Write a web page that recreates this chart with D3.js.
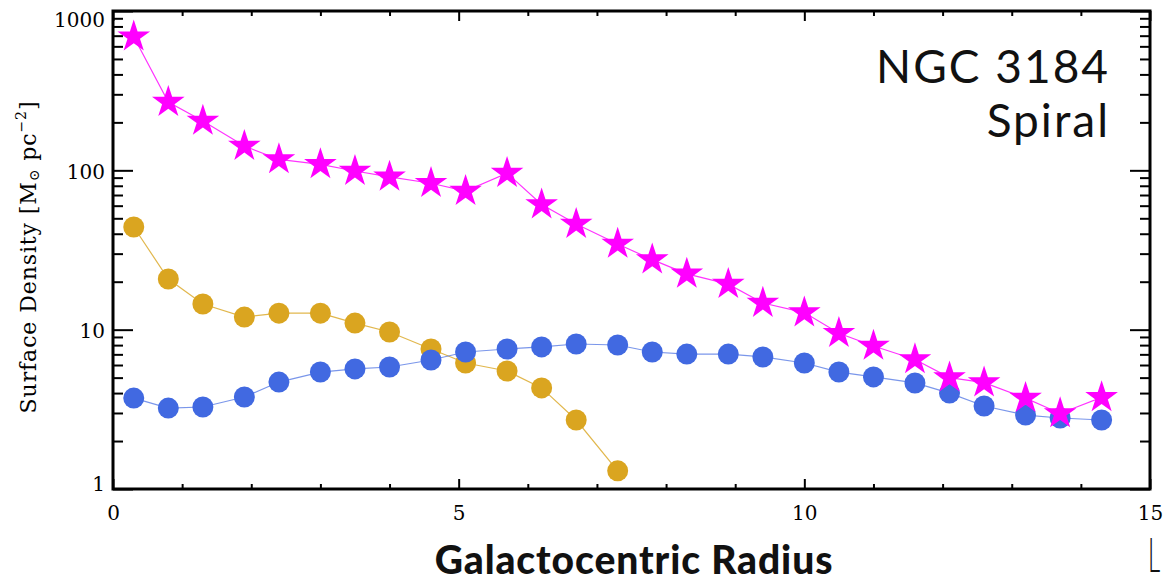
<!DOCTYPE html>
<html><head><meta charset="utf-8">
<script src="https://cdn.jsdelivr.net/npm/d3@7"></script>
<style>
html,body{margin:0;padding:0;background:#fff;}
svg{display:block;}
</style></head>
<body>
<script>
// ---- data ----
const radius = [0.3,0.8,1.3,1.9,2.4,3.0,3.5,4.0,4.6,5.1,5.7,6.2,6.7,7.3,7.8,8.3,8.9,9.4,10.0,10.5,11.0,11.6,12.1,12.6,13.2,13.7,14.3];
const totalDensity = [690,268,204,142,117,109,99,91,83,74,96,61,46,34.5,27.5,22.4,19.3,14.7,12.8,9.5,7.9,6.5,5.0,4.65,3.72,2.98,3.76];
const blueDensity = [3.72,3.22,3.27,3.78,4.69,5.42,5.67,5.83,6.45,7.24,7.56,7.79,8.13,8.01,7.24,7.03,7.03,6.74,6.18,5.42,5.05,4.63,4.0,3.32,2.91,2.79,2.71];
const goldDensity = [44.1,20.8,14.5,12.0,12.7,12.7,11.0,9.67,7.56,6.18,5.50,4.31,2.71,1.30];
const xTickLabels = [0,5,10,15];
const yTickLabels = [1,10,100,1000];
const titleLines = ["NGC 3184","Spiral"];

const W=1165,H=584;
const L=113,R=1150,T=11,B=489;
const svg=d3.select("body").append("svg").attr("width",W).attr("height",H);

const x=d3.scaleLinear().domain([0,15]).range([L,R]);
const y=d3.scaleLog().domain([1,1000]).range([B,T]);

const minorY=[];
[1,10,100].forEach(d=>{for(let k=2;k<=9;k++)minorY.push(d*k);});
const minorX=d3.range(0,16).filter(v=>v%5!==0);

const tickFont="DejaVu Serif";
function styleAxis(g){
  g.select(".domain").remove();
  g.selectAll(".tick line").attr("stroke","#000").attr("stroke-width",2);
  g.selectAll("text").attr("font-family",tickFont).attr("font-size",20).attr("fill","#000");
}
// left
svg.append("g").attr("transform",`translate(${L},0)`)
  .call(d3.axisLeft(y).tickValues(yTickLabels).tickSize(-20).tickPadding(8).tickFormat(d3.format("d")))
  .call(styleAxis)
  .call(g=>g.selectAll("text").attr("dy",d=>d===1000?"0.75em":(d===1?"0.05em":"0.4em")));
svg.append("g").attr("transform",`translate(${L},0)`)
  .call(d3.axisLeft(y).tickValues(minorY).tickSize(-10).tickFormat(""))
  .call(styleAxis);
// right
svg.append("g").attr("transform",`translate(${R},0)`)
  .call(d3.axisRight(y).tickValues(yTickLabels).tickSize(-20).tickFormat(""))
  .call(styleAxis);
svg.append("g").attr("transform",`translate(${R},0)`)
  .call(d3.axisRight(y).tickValues(minorY).tickSize(-10).tickFormat(""))
  .call(styleAxis);
// bottom
svg.append("g").attr("transform",`translate(0,${B})`)
  .call(d3.axisBottom(x).tickValues(xTickLabels).tickSize(-10).tickPadding(17).tickFormat(d3.format("d")))
  .call(styleAxis);
svg.append("g").attr("transform",`translate(0,${B})`)
  .call(d3.axisBottom(x).tickValues(minorX).tickSize(-5).tickFormat(""))
  .call(styleAxis);
// top
svg.append("g").attr("transform",`translate(0,${T})`)
  .call(d3.axisTop(x).tickValues(xTickLabels).tickSize(-10).tickFormat(""))
  .call(styleAxis);
svg.append("g").attr("transform",`translate(0,${T})`)
  .call(d3.axisTop(x).tickValues(minorX).tickSize(-5).tickFormat(""))
  .call(styleAxis);

// frame
svg.append("rect").attr("x",L).attr("y",T).attr("width",R-L).attr("height",B-T)
  .attr("fill","none").attr("stroke","#000").attr("stroke-width",3);

// series
const line=d3.line().x(d=>x(d[0])).y(d=>y(d[1]));
const goldPts=goldDensity.map((v,i)=>[radius[i],v]);
const bluePts=blueDensity.map((v,i)=>[radius[i],v]);
const starPts=totalDensity.map((v,i)=>[radius[i],v]);

const gold="#DAA520", blue="#4169E1", mag="#FF00FF";
svg.append("path").datum(goldPts).attr("d",line).attr("fill","none").attr("stroke",gold).attr("stroke-opacity",0.8).attr("stroke-width",1.2);
svg.append("path").datum(bluePts).attr("d",line).attr("fill","none").attr("stroke",blue).attr("stroke-opacity",0.7).attr("stroke-width",1.2);
svg.append("path").datum(starPts).attr("d",line).attr("fill","none").attr("stroke",mag).attr("stroke-opacity",0.8).attr("stroke-width",1.2);

svg.append("g").selectAll("circle").data(goldPts).join("circle")
  .attr("cx",d=>x(d[0])).attr("cy",d=>y(d[1])).attr("r",10.5).attr("fill",gold);
svg.append("g").selectAll("circle").data(bluePts).join("circle")
  .attr("cx",d=>x(d[0])).attr("cy",d=>y(d[1])).attr("r",10.5).attr("fill",blue);
const star=d3.symbol().type(d3.symbolStar).size(330);
svg.append("g").selectAll("path").data(starPts).join("path")
  .attr("d",star).attr("transform",d=>`translate(${x(d[0])},${y(d[1])})`).attr("fill",mag);

// title
const tg=svg.append("g").attr("font-family","Lato, 'Open Sans', sans-serif").attr("font-size",46)
  .attr("letter-spacing",2).attr("fill","#111").attr("text-anchor","end");
tg.append("text").attr("x",1110).attr("y",83).text(titleLines[0]);
tg.append("text").attr("x",1110).attr("y",137).text(titleLines[1]);

// x title
svg.append("text").attr("x",634).attr("y",574).attr("text-anchor","middle")
  .attr("font-family","Lato, sans-serif").attr("font-weight",900).attr("font-size",39)
  .attr("letter-spacing",0.9).attr("fill","#111")
  .text("Galactocentric Radius");

// partial letter at right edge
svg.append("text").attr("transform","translate(1148,572) scale(0.5,1)").attr("font-family","Lato, sans-serif").attr("font-weight",300)
  .attr("font-size",48).attr("fill","#111").text("L");

// y title
const yt=svg.append("text").attr("transform","translate(36,257) rotate(-90)").attr("text-anchor","middle")
  .attr("font-family",tickFont).attr("font-size",22).attr("letter-spacing",0.9).attr("fill","#000");
yt.append("tspan").text("Surface Density [M");
yt.append("tspan").attr("font-size",14).attr("dy",3).text("\u2299");
yt.append("tspan").attr("dy",-3).text(" pc");
yt.append("tspan").attr("font-size",14).attr("dy",-10).text("\u22122");
yt.append("tspan").attr("dy",10).text("]");
</script>
</body></html>
